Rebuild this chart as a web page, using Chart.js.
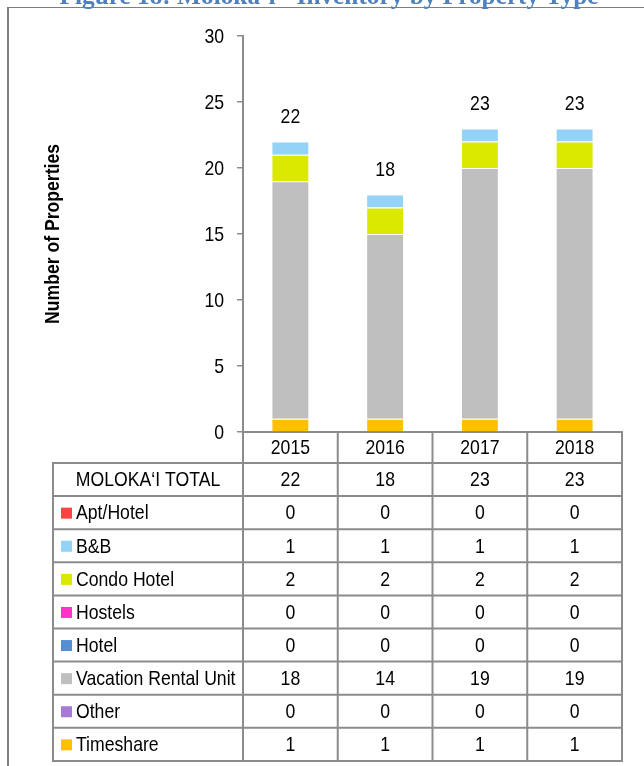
<!DOCTYPE html>
<html>
<head>
<meta charset="utf-8">
<script src="https://cdn.jsdelivr.net/npm/chart.js@4.4.1/dist/chart.umd.min.js"></script>
<style>
  html, body { margin: 0; padding: 0; background: #fff; }
  canvas { display: block; }
</style>
</head>
<body>
<canvas id="myChart" width="644" height="766"></canvas>
<script>
// data
var years = ['2015', '2016', '2017', '2018'];
var totals = [22, 18, 23, 23];
var totalLabel = 'MOLOKA\u2018I TOTAL';
var seriesNames = ['Apt/Hotel', 'B&B', 'Condo Hotel', 'Hostels', 'Hotel', 'Vacation Rental Unit', 'Other', 'Timeshare'];
var aptHotel = [0, 0, 0, 0];
var bnb = [1, 1, 1, 1];
var condoHotel = [2, 2, 2, 2];
var hostels = [0, 0, 0, 0];
var hotel = [0, 0, 0, 0];
var vacationRental = [18, 14, 19, 19];
var other = [0, 0, 0, 0];
var timeshare = [1, 1, 1, 1];
var yTicks = [0, 5, 10, 15, 20, 25, 30];
var yTitle = 'Number of Properties';

var seriesValues = [aptHotel, bnb, condoHotel, hostels, hotel, vacationRental, other, timeshare];
var seriesColors = ['#ff4343', '#93d3f7', '#dbe800', '#ff33cc', '#558ed5', '#bfbfbf', '#a77ad3', '#ffc000'];

var FONT = "'Liberation Sans', Arial, sans-serif";
var LINE = '#8c8c8c';
var SQUEEZE = 0.84; // no Arial Narrow here, so squeeze the regular face

// Excel stacks the last series at the bottom here
var datasets = seriesNames.map(function(name, i) {
  return {
    label: name,
    data: seriesValues[i],
    backgroundColor: seriesColors[i],
    borderColor: 'rgba(255,255,255,0.8)',
    borderWidth: function(c) { return c.raw ? 1 : 0; },
    barPercentage: 0.4,
    categoryPercentage: 1.0
  };
}).reverse();

function narrow(ctx, text, x, y, align, sq) {
  ctx.save();
  ctx.translate(x, y);
  ctx.scale(sq || SQUEEZE, 1);
  ctx.textAlign = align || 'center';
  ctx.fillText(text, 0, 0);
  ctx.restore();
}

var tablePlugin = {
  id: 'tablePlugin',
  beforeDraw: function(chart) {
    var ctx = chart.ctx;
    ctx.save();
    // page frame
    ctx.strokeStyle = '#7f7f7f';
    ctx.lineWidth = 1;
    ctx.beginPath();
    ctx.moveTo(7, 7.5);
    ctx.lineTo(644, 7.5);
    ctx.stroke();
    ctx.lineWidth = 2;
    ctx.beginPath();
    ctx.moveTo(8, 7);
    ctx.lineTo(8, 766);
    ctx.stroke();
    // cut-off caption above
    var cap = 'Figure 18: Moloka\u2018i - Inventory by Property Type';
    ctx.font = 'bold 22px "Liberation Serif", serif';
    var size = 22 * 538 / ctx.measureText(cap).width;
    ctx.font = 'bold ' + size.toFixed(1) + 'px "Liberation Serif", serif';
    ctx.fillStyle = '#4f81bd';
    ctx.textAlign = 'center';
    ctx.textBaseline = 'alphabetic';
    ctx.fillText(cap, 329, 4);
    ctx.restore();
  },
  afterDatasetsDraw: function(chart) {
    var ctx = chart.ctx;
    var x = chart.scales.x, y = chart.scales.y;
    ctx.save();
    ctx.font = '21px ' + FONT;
    ctx.fillStyle = '#000';
    ctx.textBaseline = 'middle';
    totals.forEach(function(t, i) {
      narrow(ctx, String(t), x.getPixelForValue(i), y.getPixelForValue(t) - 24);
    });
    // y tick labels
    yTicks.forEach(function(v) {
      narrow(ctx, String(v), 224, y.getPixelForValue(v) + 1, 'right');
    });
    // y title
    ctx.font = 'bold 20px ' + FONT;
    ctx.save();
    ctx.translate(53, (chart.chartArea.top + chart.chartArea.bottom) / 2);
    ctx.rotate(-Math.PI / 2);
    narrow(ctx, yTitle, 0, 0, 'center', 0.88);
    ctx.restore();
    ctx.restore();
  },
  afterDraw: function(chart) {
    var ctx = chart.ctx;
    var x = chart.scales.x;
    var area = chart.chartArea;
    var step = x.getPixelForValue(1) - x.getPixelForValue(0);
    var left = 53;
    var yearTop = area.bottom;
    var rowTop = yearTop + 31;
    var rowH = 33.1;
    var nRows = seriesNames.length + 1;
    var bottom = rowTop + rowH * nRows;
    var colEdges = [];
    for (var i = 0; i <= years.length; i++) {
      colEdges.push(x.getPixelForValue(0) - step / 2 + step * i);
    }

    ctx.save();
    ctx.strokeStyle = LINE;
    ctx.lineWidth = 2;
    ctx.beginPath();
    colEdges.forEach(function(cx) {
      ctx.moveTo(cx, yearTop);
      ctx.lineTo(cx, bottom);
    });
    ctx.moveTo(left, rowTop);
    ctx.lineTo(left, bottom);
    for (var r = 0; r <= nRows; r++) {
      var ry = rowTop + rowH * r;
      ctx.moveTo(left - 1, ry);
      ctx.lineTo(colEdges[colEdges.length - 1] + 1, ry);
    }
    ctx.stroke();

    ctx.fillStyle = '#000';
    ctx.font = '21px ' + FONT;
    ctx.textBaseline = 'middle';
    years.forEach(function(yr, i) {
      narrow(ctx, yr, x.getPixelForValue(i), yearTop + 16);
    });

    // total row
    var cy = rowTop + rowH / 2 + 1;
    narrow(ctx, totalLabel, (left + colEdges[0]) / 2, cy);
    totals.forEach(function(t, i) {
      narrow(ctx, String(t), x.getPixelForValue(i), cy);
    });

    seriesNames.forEach(function(name, s) {
      var yy = rowTop + rowH * (s + 1) + rowH / 2 + 1;
      ctx.fillStyle = seriesColors[s];
      ctx.fillRect(61, yy - 6, 11, 11);
      ctx.fillStyle = '#000';
      narrow(ctx, name, 76, yy, 'left');
      seriesValues[s].forEach(function(v, i) {
        narrow(ctx, String(v), x.getPixelForValue(i), yy);
      });
    });
    ctx.restore();
  }
};

var ctx = document.getElementById('myChart');
var myChart = new Chart(ctx, {
  type: 'bar',
  data: {
    labels: years,
    datasets: datasets
  },
  options: {
    responsive: false,
    animation: false,
    layout: {
      padding: { top: 36, right: 22, bottom: 334, left: 0 }
    },
    plugins: {
      legend: { display: false },
      tooltip: { enabled: false }
    },
    scales: {
      x: {
        stacked: true,
        grid: { display: false },
        ticks: { display: false },
        border: { display: true, color: LINE, width: 2 },
        afterFit: function(scale) { scale.height = 0; }
      },
      y: {
        stacked: true,
        min: 0,
        max: 30,
        afterBuildTicks: function(scale) {
          scale.ticks = yTicks.map(function(v) { return { value: v }; });
        },
        afterFit: function(scale) { scale.width = 243; },
        grid: {
          drawOnChartArea: false,
          drawTicks: true,
          tickLength: 6,
          color: LINE,
          lineWidth: 1.5
        },
        border: { display: true, color: LINE, width: 2 },
        ticks: { display: false },
        title: { display: false }
      }
    }
  },
  plugins: [tablePlugin]
});
</script>
</body>
</html>
